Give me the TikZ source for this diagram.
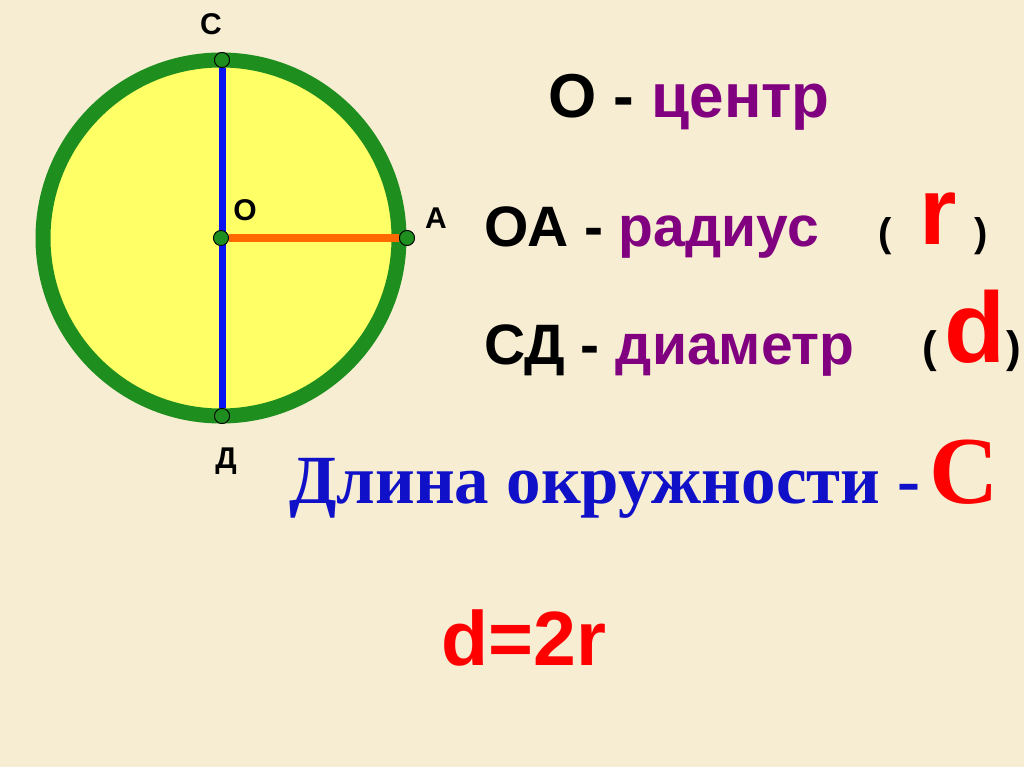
\documentclass[tikz,border=0pt]{standalone}
\usepackage{fontspec}
\setmainfont{Liberation Sans}
\newfontfamily\serifbold{Liberation Serif}
\definecolor{bgc}{HTML}{F6EDD2}
\definecolor{ringg}{HTML}{1E8E1E}
\definecolor{fillY}{HTML}{FFFF66}
\definecolor{diamB}{HTML}{0A14F0}
\definecolor{radO}{HTML}{FF6A00}
\definecolor{purp}{HTML}{800080}
\definecolor{redc}{HTML}{FF0000}
\definecolor{bluet}{HTML}{1010C8}
\tikzset{
  pt/.style={circle,draw=black,line width=0.8pt,fill=ringg,minimum size=15pt,inner sep=0pt},
  lbl/.style={anchor=base,font=\fontsize{30}{30}\selectfont\bfseries,inner sep=0pt},
  txt/.style={anchor=base west,inner sep=0pt,font=\fontsize{57}{60}\selectfont\bfseries},
}
\begin{document}
\begin{tikzpicture}[x=1pt,y=-1pt]
\fill[bgc] (0,0) rectangle (1024,767);
\useasboundingbox (0,0) rectangle (1024,767);
% circle
\coordinate (ctr) at (221,238);
\draw[ringg,line width=15pt,fill=fillY] (ctr) circle[radius=178];
% points
\node[pt] (C) at (222,60) {};
\node[pt] (D) at (222,416) {};
\node[pt] (A) at (407,238) {};
\node[pt] (O) at (221,238) {};
\draw[diamB,line width=7pt] (C) -- (D);
\draw[radO,line width=7.5pt] (O) -- (A);
\node[pt] at (C) {};
\node[pt] at (D) {};
\node[pt] at (A) {};
\node[pt] at (O) {};
% point labels
\node[lbl] (lC) at (211,35) {С};
\node[lbl] (lO) at (245,221) {О};
\node[lbl] (lA) at (436,229) {А};
\node[lbl] (lD) at (226,468) {Д};
% right texts
\node[txt,font=\fontsize{62}{64}\selectfont\bfseries] (t1) at (548,118) {О - \textcolor{purp}{центр}};
\node[txt] (t2) at (484,247) {ОА - \textcolor{purp}{радиус}};
\node[txt,font=\fontsize{40}{40}\selectfont\bfseries] (p1) at (878,247) {(};
\node[txt,font=\fontsize{96}{96}\selectfont\bfseries,text=redc] (r1) at (919,244) {r};
\node[txt,font=\fontsize{40}{40}\selectfont\bfseries] (p2) at (974,247) {)};
\node[txt] (t3) at (484,364) {СД - \textcolor{purp}{диаметр}};
\node[txt,font=\fontsize{44}{44}\selectfont\bfseries] (p3) at (922,362) {(};
\node[txt,font=\fontsize{100}{100}\selectfont\bfseries,text=redc] (d1) at (944,362) {d};
\node[txt,font=\fontsize{44}{44}\selectfont\bfseries] (p4) at (1006,362) {)};
\node[txt,font=\serifbold\fontsize{69}{70}\selectfont\bfseries,text=bluet] (t4) at (289,503) {Длина окружности -};
\node[txt,font=\serifbold\fontsize{96}{96}\selectfont\bfseries,text=redc] (c1) at (929,503) {С};
\node[txt,font=\fontsize{77}{77}\selectfont\bfseries,text=redc] (t5) at (441,665) {d=2r};
\end{tikzpicture}
\end{document}
